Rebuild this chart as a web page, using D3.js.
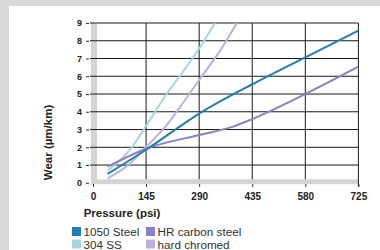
<!DOCTYPE html>
<html><head><meta charset="utf-8">
<script src="https://cdn.jsdelivr.net/npm/d3@7"></script>
<style>
html,body{margin:0;padding:0;background:#d9d9d9;}
svg{display:block;font-family:"Liberation Sans",Arial,sans-serif;}
</style></head>
<body>
<svg id="c" width="380" height="250"></svg>
<script>
const pressureTicks = [0, 145, 290, 435, 580, 725];
const wearTicks = [0, 1, 2, 3, 4, 5, 6, 7, 8, 9];
const seriesNames = ["1050 Steel", "HR carbon steel", "304 SS", "hard chromed"];
const seriesColors = ["#1f7fb3", "#8b80c4", "#a6d3e6", "#bbb3dd"];
const steel1050Pressure = [40, 145, 290, 435, 580, 725];
const steel1050Wear = [0.5, 1.86, 3.9, 5.55, 7.07, 8.57];
const hrCarbonPressure = [40, 145, 290, 380, 435, 580, 725];
const hrCarbonWear = [0.91, 1.92, 2.69, 3.15, 3.59, 5.0, 6.54];
const ss304Pressure = [40, 100, 145, 200, 250, 290, 333];
const ss304Wear = [0.68, 1.84, 3.2, 4.97, 6.38, 7.56, 9.0];
const chromedPressure = [40, 100, 145, 200, 250, 290, 350, 393];
const chromedWear = [0.25, 1.06, 2.02, 3.22, 4.62, 5.79, 7.53, 9.0];

const svg = d3.select("#c");
svg.append("rect").attr("x", 9).attr("y", 6).attr("width", 371).attr("height", 244).attr("fill", "#fff");

const x = d3.scaleLinear().domain([0, 725]).range([93, 358.4]);
const y = d3.scaleLinear().domain([0, 9]).range([182.8, 23]);

// wall and floor
svg.append("rect").attr("x", 91).attr("y", y(9)).attr("width", 6).attr("height", 184 - y(9)).attr("fill", "#d4d4d4");
svg.append("rect").attr("x", 91).attr("y", 179.3).attr("width", x(725) - 91).attr("height", 4.9).attr("fill", "#d4d4d4");

// horizontal gridlines
svg.append("g").selectAll("line").data(wearTicks.filter(d => d > 0)).join("line")
  .attr("x1", 90).attr("x2", x(725)).attr("y1", d => y(d)).attr("y2", d => y(d))
  .attr("stroke", "#1a1a1a").attr("stroke-width", 1);
// vertical gridlines
svg.append("g").selectAll("line").data(pressureTicks.filter(d => d > 0)).join("line")
  .attr("x1", d => x(d)).attr("x2", d => x(d)).attr("y1", y(9)).attr("y2", d => d === 725 ? 187 : 179.3)
  .attr("stroke", "#1a1a1a").attr("stroke-width", 1);

// axes
const yAxis = svg.append("g").attr("transform", "translate(89,0)")
  .call(d3.axisLeft(y).tickValues(wearTicks).tickSize(3).tickPadding(4).tickFormat(d3.format("d")));
yAxis.select(".domain").remove();
yAxis.selectAll("text").attr("font-size", 9).attr("font-weight", "bold").attr("fill", "#222").attr("font-family", "Liberation Sans, Arial, sans-serif");
yAxis.selectAll("line").attr("stroke", "#333");

const xAxis = svg.append("g").attr("transform", "translate(0,184)")
  .call(d3.axisBottom(x).tickValues(pressureTicks).tickSize(3).tickPadding(5.6).tickFormat(d3.format("d")));
xAxis.select(".domain").remove();
xAxis.selectAll("text").attr("font-size", 10).attr("font-weight", "bold").attr("fill", "#222").attr("font-family", "Liberation Sans, Arial, sans-serif");
xAxis.selectAll("line").attr("stroke", "#333");

// lines
svg.append("clipPath").attr("id", "clip").append("rect").attr("x", 91).attr("y", y(9)).attr("width", x(725) - 91 + 2).attr("height", 184 - y(9));
const line = d3.line().x(d => x(d[0])).y(d => y(d[1])).curve(d3.curveMonotoneX);
const series = [
  [steel1050Pressure, steel1050Wear],
  [hrCarbonPressure, hrCarbonWear],
  [ss304Pressure, ss304Wear],
  [chromedPressure, chromedWear]
];
const drawOrder = [2, 3, 1, 0];
const lg = svg.append("g").attr("clip-path", "url(#clip)");
drawOrder.forEach(i => {
  const pts = series[i][0].map((p, k) => [p, series[i][1][k]]);
  lg.append("path").attr("d", line(pts)).attr("fill", "none").attr("stroke", seriesColors[i]).attr("stroke-width", 2);
});

// axis titles
svg.append("text").attr("x", 122).attr("y", 217).attr("text-anchor", "middle")
  .attr("font-size", 11.5).attr("font-weight", "bold").attr("fill", "#222").text("Pressure (psi)");
svg.append("text").attr("transform", "translate(52,142.5) rotate(-90)").attr("text-anchor", "middle")
  .attr("font-size", 11.5).attr("font-weight", "bold").attr("fill", "#222").text("Wear (µm/km)");

// legend
const legendPos = [[72, 227], [146, 227], [72, 239.5], [146, 239.5]];
seriesNames.forEach((n, i) => {
  const [lx, ly] = legendPos[i];
  svg.append("rect").attr("x", lx).attr("y", ly).attr("width", 9).attr("height", 9).attr("fill", seriesColors[i]);
  svg.append("text").attr("x", lx + 11.5).attr("y", ly + 9).attr("font-size", 11.7).attr("fill", "#333").text(n);
});
</script>
</body></html>
